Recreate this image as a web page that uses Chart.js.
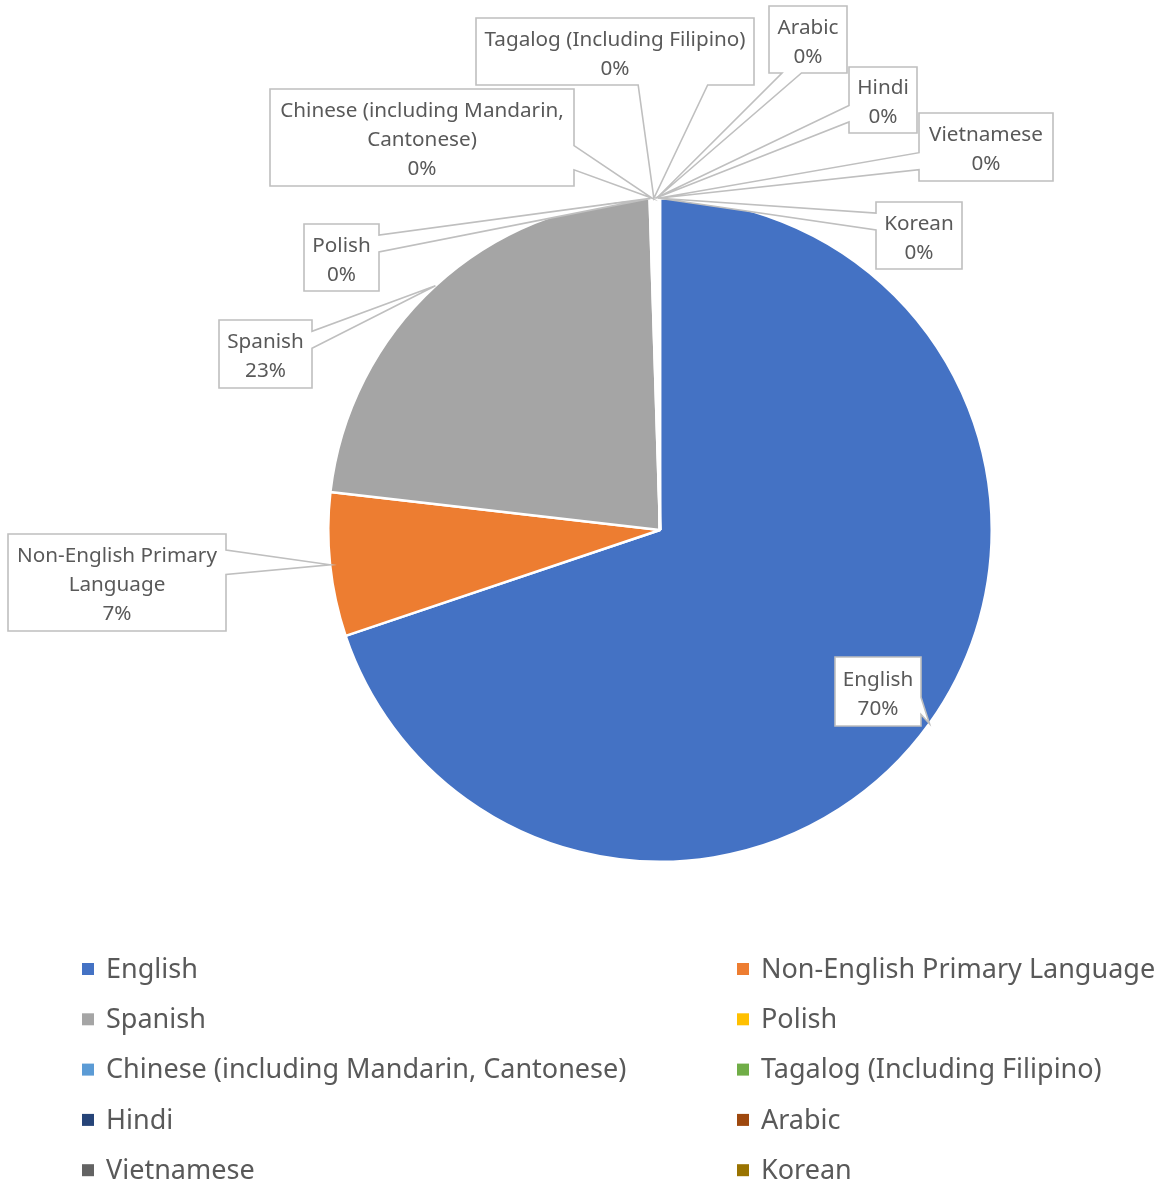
<!DOCTYPE html>
<html>
<head>
<meta charset="utf-8">
<script src="https://cdn.jsdelivr.net/npm/chart.js@4"></script>
<style>
  html, body { margin: 0; padding: 0; background: #ffffff; }
</style>
</head>
<body>
<canvas id="languageChart" width="1157" height="1188"></canvas>
<script>
// Primary language shares (percent of total)
const categories = [
  "English",
  "Non-English Primary Language",
  "Spanish",
  "Polish",
  "Chinese (including Mandarin, Cantonese)",
  "Tagalog (Including Filipino)",
  "Hindi",
  "Arabic",
  "Vietnamese",
  "Korean",
];
const shares = [69.83, 7.0, 22.67, 0.09, 0.08, 0.07, 0.06, 0.07, 0.07, 0.06];
const sliceColors = [
  "#4472C4", "#ED7D31", "#A5A5A5", "#FFC000", "#5B9BD5",
  "#70AD47", "#264478", "#9E480E", "#636363", "#997300",
];

// callout boxes [left, top, right, bottom], same order as categories
const calloutBoxes = [
  [835, 657, 921, 726],
  [8, 534, 226, 631],
  [219, 320, 312, 388],
  [304, 224, 379, 291],
  [270, 89, 574, 186],
  [476, 18, 754, 85],
  [849, 67, 917, 133],
  [769, 6, 847, 73],
  [919, 113, 1053, 181],
  [876, 202, 962, 269],
];

const FONT = "'Noto Sans', 'Open Sans', sans-serif";
const TEXT_COLOR = "#595959";

// Excel style wedge rectangle callout: box + tail pointing to (tx, ty)
function drawCallout(ctx, l, t, r, b, tx, ty) {
  const w = r - l;
  const h = b - t;
  const dxPos = tx - (l + w / 2);
  const dyPos = ty - (t + h / 2);
  const x1 = l + (w * (dxPos > 0 ? 7 : 2)) / 12;
  const x2 = l + (w * (dxPos > 0 ? 10 : 5)) / 12;
  const y1 = t + (h * (dyPos > 0 ? 7 : 2)) / 12;
  const y2 = t + (h * (dyPos > 0 ? 10 : 5)) / 12;
  const inside = Math.abs(dxPos) <= w / 2 && Math.abs(dyPos) <= h / 2;

  ctx.beginPath();
  ctx.moveTo(l, t);
  if (inside) {
    ctx.lineTo(r, t);
    ctx.lineTo(r, b);
    ctx.lineTo(l, b);
  } else if (Math.abs(dyPos * w) >= Math.abs(dxPos * h)) {
    if (dyPos < 0) {
      ctx.lineTo(x1, t);
      ctx.lineTo(tx, ty);
      ctx.lineTo(x2, t);
      ctx.lineTo(r, t);
      ctx.lineTo(r, b);
      ctx.lineTo(l, b);
    } else {
      ctx.lineTo(r, t);
      ctx.lineTo(r, b);
      ctx.lineTo(x2, b);
      ctx.lineTo(tx, ty);
      ctx.lineTo(x1, b);
      ctx.lineTo(l, b);
    }
  } else {
    if (dxPos < 0) {
      ctx.lineTo(r, t);
      ctx.lineTo(r, b);
      ctx.lineTo(l, b);
      ctx.lineTo(l, y2);
      ctx.lineTo(tx, ty);
      ctx.lineTo(l, y1);
    } else {
      ctx.lineTo(r, t);
      ctx.lineTo(r, y1);
      ctx.lineTo(tx, ty);
      ctx.lineTo(r, y2);
      ctx.lineTo(r, b);
      ctx.lineTo(l, b);
    }
  }
  ctx.closePath();
  ctx.fillStyle = "#ffffff";
  ctx.fill();
  ctx.strokeStyle = "#BFBFBF";
  ctx.lineWidth = 1.6;
  ctx.stroke();
}

function wrapText(ctx, text, maxWidth) {
  const words = text.split(" ");
  const lines = [];
  let line = "";
  words.forEach((word) => {
    const test = line ? line + " " + word : word;
    if (line && ctx.measureText(test).width > maxWidth) {
      lines.push(line);
      line = word;
    } else {
      line = test;
    }
  });
  if (line) lines.push(line);
  return lines;
}

const calloutPlugin = {
  id: "callouts",
  afterDatasetsDraw(chart) {
    const ctx = chart.ctx;
    const meta = chart.getDatasetMeta(0);
    const total = shares.reduce((a, b) => a + b, 0);
    ctx.save();
    ctx.font = "20.7px " + FONT;
    ctx.textAlign = "center";
    ctx.textBaseline = "middle";
    ctx.lineJoin = "miter";

    meta.data.forEach((arc, i) => {
      const p = arc.getProps(["x", "y", "startAngle", "endAngle", "outerRadius"], true);
      const mid = (p.startAngle + p.endAngle) / 2;
      const tipX = p.x + Math.cos(mid) * p.outerRadius;
      const tipY = p.y + Math.sin(mid) * p.outerRadius;
      const [l, t, r, b] = calloutBoxes[i];

      drawCallout(ctx, l, t, r, b, tipX, tipY);

      const lines = wrapText(ctx, categories[i], r - l - 8);
      lines.push(Math.round((shares[i] / total) * 100) + "%");
      const lineHeight = 29;
      const cx = (l + r) / 2;
      const startY = (t + b) / 2 - ((lines.length - 1) * lineHeight) / 2 + 3;
      ctx.fillStyle = TEXT_COLOR;
      lines.forEach((ln, k) => ctx.fillText(ln, cx, startY + k * lineHeight));
    });
    ctx.restore();
  },
  afterDraw(chart) {
    // two column legend under the pie
    const ctx = chart.ctx;
    const colors = chart.data.datasets[0].backgroundColor;
    ctx.save();
    ctx.font = "27px " + FONT;
    ctx.textAlign = "left";
    ctx.textBaseline = "middle";
    chart.data.labels.forEach((label, i) => {
      const col = i % 2;
      const row = Math.floor(i / 2);
      const x = col === 0 ? 82 : 737;
      const y = 968 + row * 50.3;
      ctx.fillStyle = colors[i];
      ctx.fillRect(x, y - 5, 12, 12);
      ctx.fillStyle = TEXT_COLOR;
      ctx.fillText(label, x + 24, y + 2);
    });
    ctx.restore();
  },
};

const chart = new Chart(document.getElementById("languageChart"), {
  type: "pie",
  data: {
    labels: categories,
    datasets: [
      {
        data: shares,
        backgroundColor: sliceColors,
        borderColor: "#ffffff",
        borderWidth: 2.5,
      },
    ],
  },
  options: {
    responsive: false,
    animation: false,
    layout: {
      padding: { left: 327, right: 164, top: 197, bottom: 325 },
    },
    plugins: {
      legend: { display: false },
      tooltip: { enabled: false },
    },
  },
  plugins: [calloutPlugin],
});
</script>
</body>
</html>
